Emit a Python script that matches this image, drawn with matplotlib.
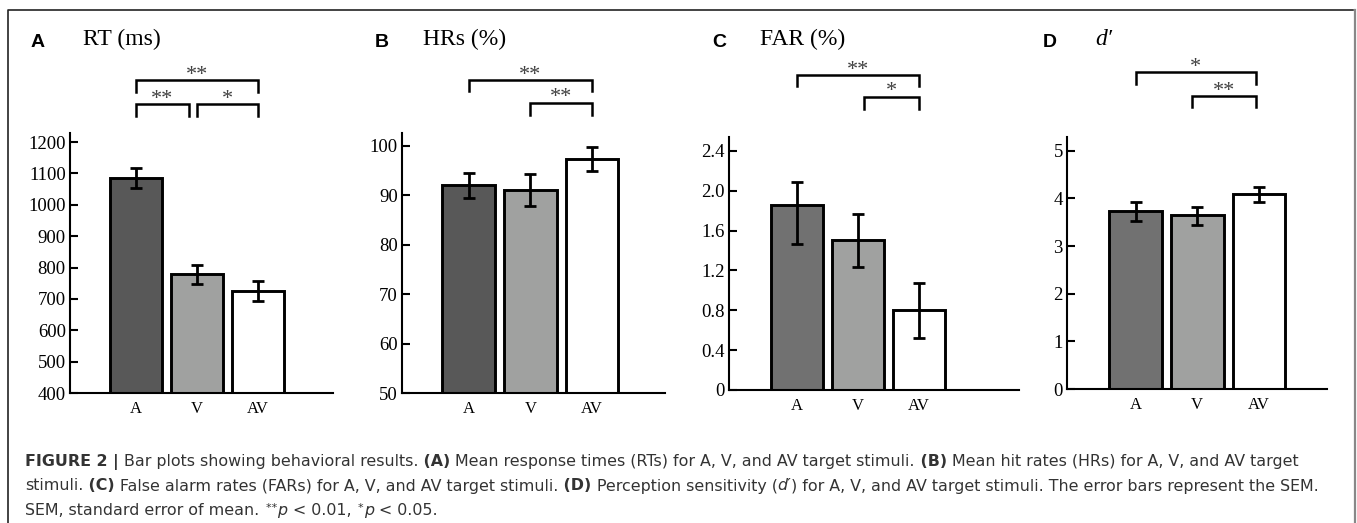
import matplotlib
matplotlib.use('Agg')
import matplotlib.pyplot as plt
from matplotlib.lines import Line2D
from matplotlib.transforms import blended_transform_factory
import numpy as np

W, H = 1357, 523
SERIF = ['Liberation Serif', 'DejaVu Serif']
SANS = ['Liberation Sans', 'DejaVu Sans']
CAP = ['DejaVu Sans']

CONDS = ['A', 'V', 'AV']

# RT (ms)
rt_mean = [1085, 780, 725]
rt_lo = [1053, 749, 692]
rt_hi = [1117, 809, 756]

# hit rates (%)
hr_mean = [92.0, 91.0, 97.4]
hr_lo = [89.5, 87.9, 94.9]
hr_hi = [94.5, 94.3, 99.8]

# false alarm rates (%)
far_mean = [1.86, 1.51, 0.80]
far_lo = [1.47, 1.23, 0.52]
far_hi = [2.09, 1.77, 1.07]

# d'
dp_mean = [3.74, 3.65, 4.10]
dp_lo = [3.53, 3.44, 3.92]
dp_hi = [3.92, 3.83, 4.25]

rt_ticks = [400, 500, 600, 700, 800, 900, 1000, 1100, 1200]
hr_ticks = [50, 60, 70, 80, 90, 100]
far_ticks = [0, 0.4, 0.8, 1.2, 1.6, 2.0, 2.4]
far_ticklabels = ['0', '0.4', '0.8', '1.2', '1.6', '2.0', '2.4']
dp_ticks = [0, 1, 2, 3, 4, 5]

# (pair, stars) per panel, upper bracket first
rt_sig = [((0, 2), '**'), ((0, 0.87), '**'), ((1.0, 2), '*')]
hr_sig = [((0, 2), '**'), ((1, 2), '**')]
far_sig = [((0, 2), '**'), ((1.1, 2), '*')]
dp_sig = [((0, 1.95), '*'), ((0.92, 1.95), '**')]

LIGHT = '#a0a1a0'

fig = plt.figure(figsize=(W / 100, H / 100), dpi=100)


def px_axes(x0, x1, y0, y1):
    return fig.add_axes([x0 / W, 1 - y1 / H, (x1 - x0) / W, (y1 - y0) / H])


panels = [
    dict(box=(70, 333, 133, 393), xlim=(-1.08, 3.23), ylim=(400, 1229),
         mean=rt_mean, lo=rt_lo, hi=rt_hi, ticks=rt_ticks, labels=None,
         dark='#585858', sig=rt_sig, lvl=[(80, 92), (104, 116), (104, 116)],
         letter='A', lx=31, title='RT (ms)', tx=83, style='normal'),
    dict(box=(402, 665, 133, 393), xlim=(-1.08, 3.18), ylim=(50, 102.6),
         mean=hr_mean, lo=hr_lo, hi=hr_hi, ticks=hr_ticks, labels=None,
         dark='#585858', sig=hr_sig, lvl=[(80, 91), (103, 115)],
         letter='B', lx=375, title='HRs (%)', tx=423, style='normal'),
    dict(box=(729, 1019, 137, 390), xlim=(-1.11, 3.64), ylim=(0, 2.54),
         mean=far_mean, lo=far_lo, hi=far_hi, ticks=far_ticks, labels=far_ticklabels,
         dark='#717171', sig=far_sig, lvl=[(75, 86), (97, 109)],
         letter='C', lx=712, title='FAR (%)', tx=760, style='normal'),
    dict(box=(1067, 1327, 137, 389), xlim=(-1.11, 3.1), ylim=(0, 5.29),
         mean=dp_mean, lo=dp_lo, hi=dp_hi, ticks=dp_ticks, labels=None,
         dark='#717171', sig=dp_sig, lvl=[(72, 84), (96, 107)],
         letter='D', lx=1043, title='d\u2032', tx=1095, style='italic'),
]

for p in panels:
    ax = px_axes(*p['box'])
    x = np.arange(len(CONDS))
    mean = np.array(p['mean'])
    yerr = [mean - np.array(p['lo']), np.array(p['hi']) - mean]
    ax.bar(x, mean, width=0.85, color=[p['dark'], LIGHT, 'white'],
           edgecolor='black', linewidth=2.1, zorder=2)
    ax.errorbar(x, mean, yerr=yerr, fmt='none', ecolor='black',
                elinewidth=2.0, capsize=4, capthick=2.0, zorder=3)
    ax.set_xlim(*p['xlim'])
    ax.set_ylim(*p['ylim'])
    ax.set_xticks(x)
    ax.set_xticklabels(CONDS, fontfamily=SERIF, fontsize=12)
    ax.set_yticks(p['ticks'])
    if p['labels']:
        ax.set_yticklabels(p['labels'])
    for lab in ax.get_yticklabels():
        lab.set_fontfamily(SERIF)
        lab.set_fontsize(13.5)
    ax.tick_params(axis='x', length=0, pad=6)
    ax.tick_params(axis='y', direction='in', length=6, width=1.5, pad=3)
    for s in ['top', 'right']:
        ax.spines[s].set_visible(False)
    for s in ['left', 'bottom']:
        ax.spines[s].set_linewidth(1.5)
    ax.patch.set_visible(False)

    # significance brackets
    tr = blended_transform_factory(ax.transData, fig.transFigure)
    for ((a, b), stars), (ly, leg) in zip(p['sig'], p['lvl']):
        yl, yg = 1 - ly / H, 1 - leg / H
        ax.add_line(Line2D([a, a, b, b], [yg, yl, yl, yg], transform=tr,
                           color='black', lw=1.8, clip_on=False,
                           solid_joinstyle='miter'))
        ax.text((a + b) / 2, yl + 0.5 / H, stars, transform=tr, ha='center',
                va='baseline', fontsize=16, color='#404040', fontfamily=SERIF)

    fig.text(p['lx'] / W, 1 - 47 / H, p['letter'], fontfamily=SANS,
             fontweight='bold', fontsize=14, ha='left', va='baseline')
    fig.text(p['tx'] / W, 1 - 45 / H, p['title'], fontfamily=SERIF,
             fontsize=17, style=p['style'], ha='left', va='baseline')

# outer frame
fig.add_artist(Line2D([8 / W, 8 / W, 1353 / W], [0, 1 - 10 / H, 1 - 10 / H],
                      transform=fig.transFigure, color='#222222', lw=1.2))
fig.add_artist(Line2D([1355 / W, 1355 / W], [0, 1 - 10 / H],
                      transform=fig.transFigure, color='#888888', lw=1.6))

# caption, drawn run by run
fig.canvas.draw()
renderer = fig.canvas.get_renderer()
R, B, I, S = 'normal', 'bold', 'italic', 'sup'
caption = [
    [('FIGURE 2 |', B), (' Bar plots showing behavioral results.', R), (' (A)', B),
     (' Mean response times (RTs) for A, V, and AV target stimuli.', R), (' (B)', B),
     (' Mean hit rates (HRs) for A, V, and AV target', R)],
    [('stimuli.', R), (' (C)', B), (' False alarm rates (FARs) for A, V, and AV target stimuli.', R),
     (' (D)', B), (' Perception sensitivity (', R), ('d\u2032', I),
     (') for A, V, and AV target stimuli. The error bars represent the SEM.', R)],
    [('SEM, standard error of mean.', R), ('  **', S), ('p', I), (' < 0.01,', R),
     ('  *', S), ('p', I), (' < 0.05.', R)],
]
for row, runs in enumerate(caption):
    xp = 25
    yp = 466 + row * 24.5
    for txt, kind in runs:
        kw = dict(fontfamily=CAP, fontsize=11.4, color='#333333', ha='left', va='baseline')
        dy = 0
        if kind == B:
            kw['fontweight'] = 'bold'
        elif kind == I:
            kw['style'] = 'italic'
        elif kind == S:
            kw['fontsize'] = 8
            dy = 4
        t = fig.text(xp / W, 1 - (yp - dy) / H, txt, **kw)
        xp += t.get_window_extent(renderer).width

fig.savefig('out.png', dpi=100)
